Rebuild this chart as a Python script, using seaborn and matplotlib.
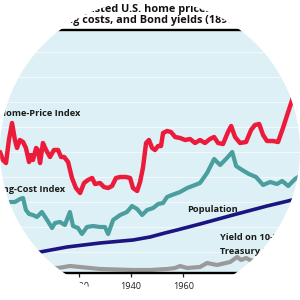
import numpy as np
import pandas as pd
import matplotlib
matplotlib.use('Agg')
import matplotlib.pyplot as plt
import seaborn as sns
from matplotlib.path import Path
from matplotlib.patches import PathPatch

# ---------------- data ----------------
hpi_years = [1890.0, 1891.1, 1892.3, 1893.4, 1894.6, 1895.7, 1896.5, 1897.6, 1898.8, 1899.9,
             1901.1, 1901.8, 1902.6, 1903.8, 1904.5, 1905.3, 1906.4, 1907.6, 1909.1, 1910.6,
             1912.2, 1913.3, 1914.5, 1916.0, 1917.5, 1919.0, 1920.6, 1922.1, 1923.6, 1925.2,
             1926.3, 1928.2, 1929.7, 1931.3, 1932.8, 1934.3, 1935.9, 1938.1, 1939.7, 1940.8,
             1942.4, 1943.5, 1944.6, 1945.8, 1946.9, 1948.1, 1949.2, 1950.4, 1951.5, 1952.3,
             1953.8, 1955.3, 1956.9, 1958.8, 1960.7, 1962.6, 1964.5, 1966.4, 1968.3, 1970.2,
             1971.8, 1973.3, 1975.2, 1977.1, 1978.3, 1979.8, 1981.7, 1984.0, 1985.9, 1987.4,
             1989.0, 1990.5, 1992.0, 1994.3, 1996.2, 1998.1, 1999.7, 2001.6, 2003.1, 2004.6]
hpi_values = [100, 93.6, 91.2, 109.6, 123.2, 109.6, 103.2, 109.6, 108, 103.2,
              92, 97.6, 93.6, 103.2, 101.6, 91.2, 107.2, 101.6, 96, 101.6,
              101.6, 96, 96, 92, 79.2, 71.2, 67.2, 75.2, 77.6, 79.2,
              74.4, 75.2, 72, 71.2, 72.8, 79.2, 80, 80, 79.2, 71.2,
              68.8, 76, 87.2, 107.2, 109.6, 103.2, 101.6, 104.8, 104.8, 115.2,
              116.8, 116, 112, 111.2, 109.6, 110.4, 107.2, 109.6, 107.2, 110.4,
              112, 107.2, 106.4, 116, 120.8, 112, 107.2, 108, 117.6, 121.6,
              122.4, 113.6, 108.8, 108.8, 108, 119.2, 129.6, 141.6, 153.6, 165.6]

cost_years = [1890.0, 1891.9, 1893.8, 1895.7, 1897.6, 1898.8, 1899.9, 1901.1, 1902.6, 1904.1,
              1906.0, 1908.0, 1909.9, 1911.0, 1912.9, 1914.8, 1916.7, 1917.9, 1919.8, 1921.3,
              1923.2, 1925.5, 1928.2, 1930.1, 1931.3, 1933.2, 1935.9, 1938.5, 1940.4, 1942.4,
              1944.3, 1946.2, 1948.5, 1950.4, 1952.3, 1953.8, 1955.7, 1958.8, 1961.5, 1964.5,
              1966.4, 1969.1, 1971.8, 1974.1, 1976.7, 1978.7, 1980.2, 1982.5, 1985.1, 1987.8,
              1990.5, 1993.2, 1995.8, 1997.8, 2000.1, 2002.7, 2004.6]
cost_values = [56.8, 58.4, 60, 60, 62.4, 63.2, 53.6, 50.4, 49.6, 48,
               52, 45.6, 39.2, 43.2, 44, 41.6, 52, 40.8, 39.2, 34.4,
               40, 40.8, 40, 40, 34.4, 45.6, 49.6, 52, 56.8, 54.4,
               49.6, 53.6, 55.2, 58.4, 59.2, 64, 65.6, 68, 71.2, 73.6,
               75.2, 83.2, 94.4, 89.6, 95.2, 100, 88.8, 85.6, 82.4, 80,
               73.6, 76, 74.4, 76.8, 72.8, 78.4, 80.8]

pop_years = [1890, 1905.3, 1915.6, 1928.2, 1940.8, 1947.3, 1953.0, 1957.6, 1966.4, 1979.0,
             1992.0, 2000.0, 2004.6]
pop_values = [13.6, 20, 24, 27.2, 29.6, 32, 35.2, 37.6, 42.4, 49.6, 56.8, 60.8, 63.2]

bond_years = [1890, 1901.5, 1912.2, 1916.7, 1920.6, 1928.2, 1940.8, 1947.3, 1953.8, 1956.9,
              1958.8, 1961.5, 1966.4, 1969.1, 1972.9, 1977.9, 1980.6, 1982.1, 1984.0, 1985.5,
              1989.4, 1993.2, 1997.0, 2004.6]
bond_values = [8.8, 8, 7.2, 8.8, 8, 6.4, 5.6, 5.6, 6.4, 7.2,
               8.8, 7.2, 8, 11.2, 9.6, 12, 16, 13.6, 15.2, 13.6,
               12, 10.4, 9.6, 8.8]

tick_years = [1900, 1920, 1940, 1960, 1980, 2000]
title_lines = ["Inflation-adjusted U.S. home prices, population,",
               "building costs, and Bond yields (1890-2005)"]

# ---------------- figure ----------------
fig = plt.figure(figsize=(3, 3), dpi=100)
fig.patch.set_facecolor('white')
ax = fig.add_axes([0, 0.09, 1, 0.81])
ax.set_facecolor('#ddf0f5')

for v in range(20, 200, 20):
    ax.axhline(v, color='#f0f9fb', lw=0.8, zorder=0)

series = [
    (bond_years, bond_values, '#9a9a9a', 3.0),
    (pop_years, pop_values, '#1c1480', 2.6),
    (cost_years, cost_values, '#4a9e9e', 3.0),
    (hpi_years, hpi_values, '#ec1b3b', 3.2),
]
for yrs, vals, col, lw in series:
    df = pd.DataFrame({'year': yrs, 'value': vals})
    sns.lineplot(data=df, x='year', y='value', ax=ax, color=col, lw=lw,
                 estimator=None, sort=False, solid_joinstyle='round',
                 solid_capstyle='round')

ax.set_xlim(1890, 2004.6)
ax.set_ylim(3.2, 197.6)
ax.set_xlabel('')
ax.set_ylabel('')
ax.set_yticks([])
ax.set_xticks(tick_years)
ax.set_xticklabels([str(t) for t in tick_years], fontsize=6.6, family='Open Sans',
                   color='#222222')
ax.tick_params(axis='x', length=3, width=0.9, pad=3.2, color='#222222')
for s in ['left', 'right']:
    ax.spines[s].set_visible(False)
for s in ['top', 'bottom']:
    ax.spines[s].set_linewidth(1.7)
    ax.spines[s].set_color('black')

lab = dict(fontsize=6.7, weight='bold', family='Open Sans', color='#1a1a1a', va='center')
ax.text(1889.8, 130.4, 'Home-Price Index', ha='left', **lab)
ax.text(1914.8, 70.4, 'Building-Cost Index', ha='right', **lab)
ax.text(1961.5, 53.6, 'Population', ha='left', **lab)
ax.text(1974.1, 32.0, 'Yield on 10-Year', ha='left', **lab)
ax.text(1974.1, 20.8, 'Treasury Bonds', ha='left', **lab)

fig.text(0.5, 0.9595, title_lines[0], ha='center', va='baseline', fontsize=7.8,
         weight='bold', family='Open Sans', color='#111111')
fig.text(0.5, 0.9245, title_lines[1], ha='center', va='baseline', fontsize=7.8,
         weight='bold', family='Open Sans', color='#111111')

# circular white mask
theta = np.linspace(0, -2 * np.pi, 361)
cx, cy, r = 0.5, 0.5, 0.5
rect = [(-0.1, -0.1), (1.1, -0.1), (1.1, 1.1), (-0.1, 1.1), (-0.1, -0.1)]
circ = list(zip(cx + r * np.cos(theta), cy + r * np.sin(theta)))
verts = rect + circ
codes = ([Path.MOVETO] + [Path.LINETO] * 3 + [Path.CLOSEPOLY] +
         [Path.MOVETO] + [Path.LINETO] * (len(circ) - 2) + [Path.CLOSEPOLY])
mask = PathPatch(Path(verts, codes), transform=fig.transFigure,
                 facecolor='white', edgecolor='none', zorder=100)
fig.add_artist(mask)

fig.savefig('out.png', dpi=100, facecolor='white')
